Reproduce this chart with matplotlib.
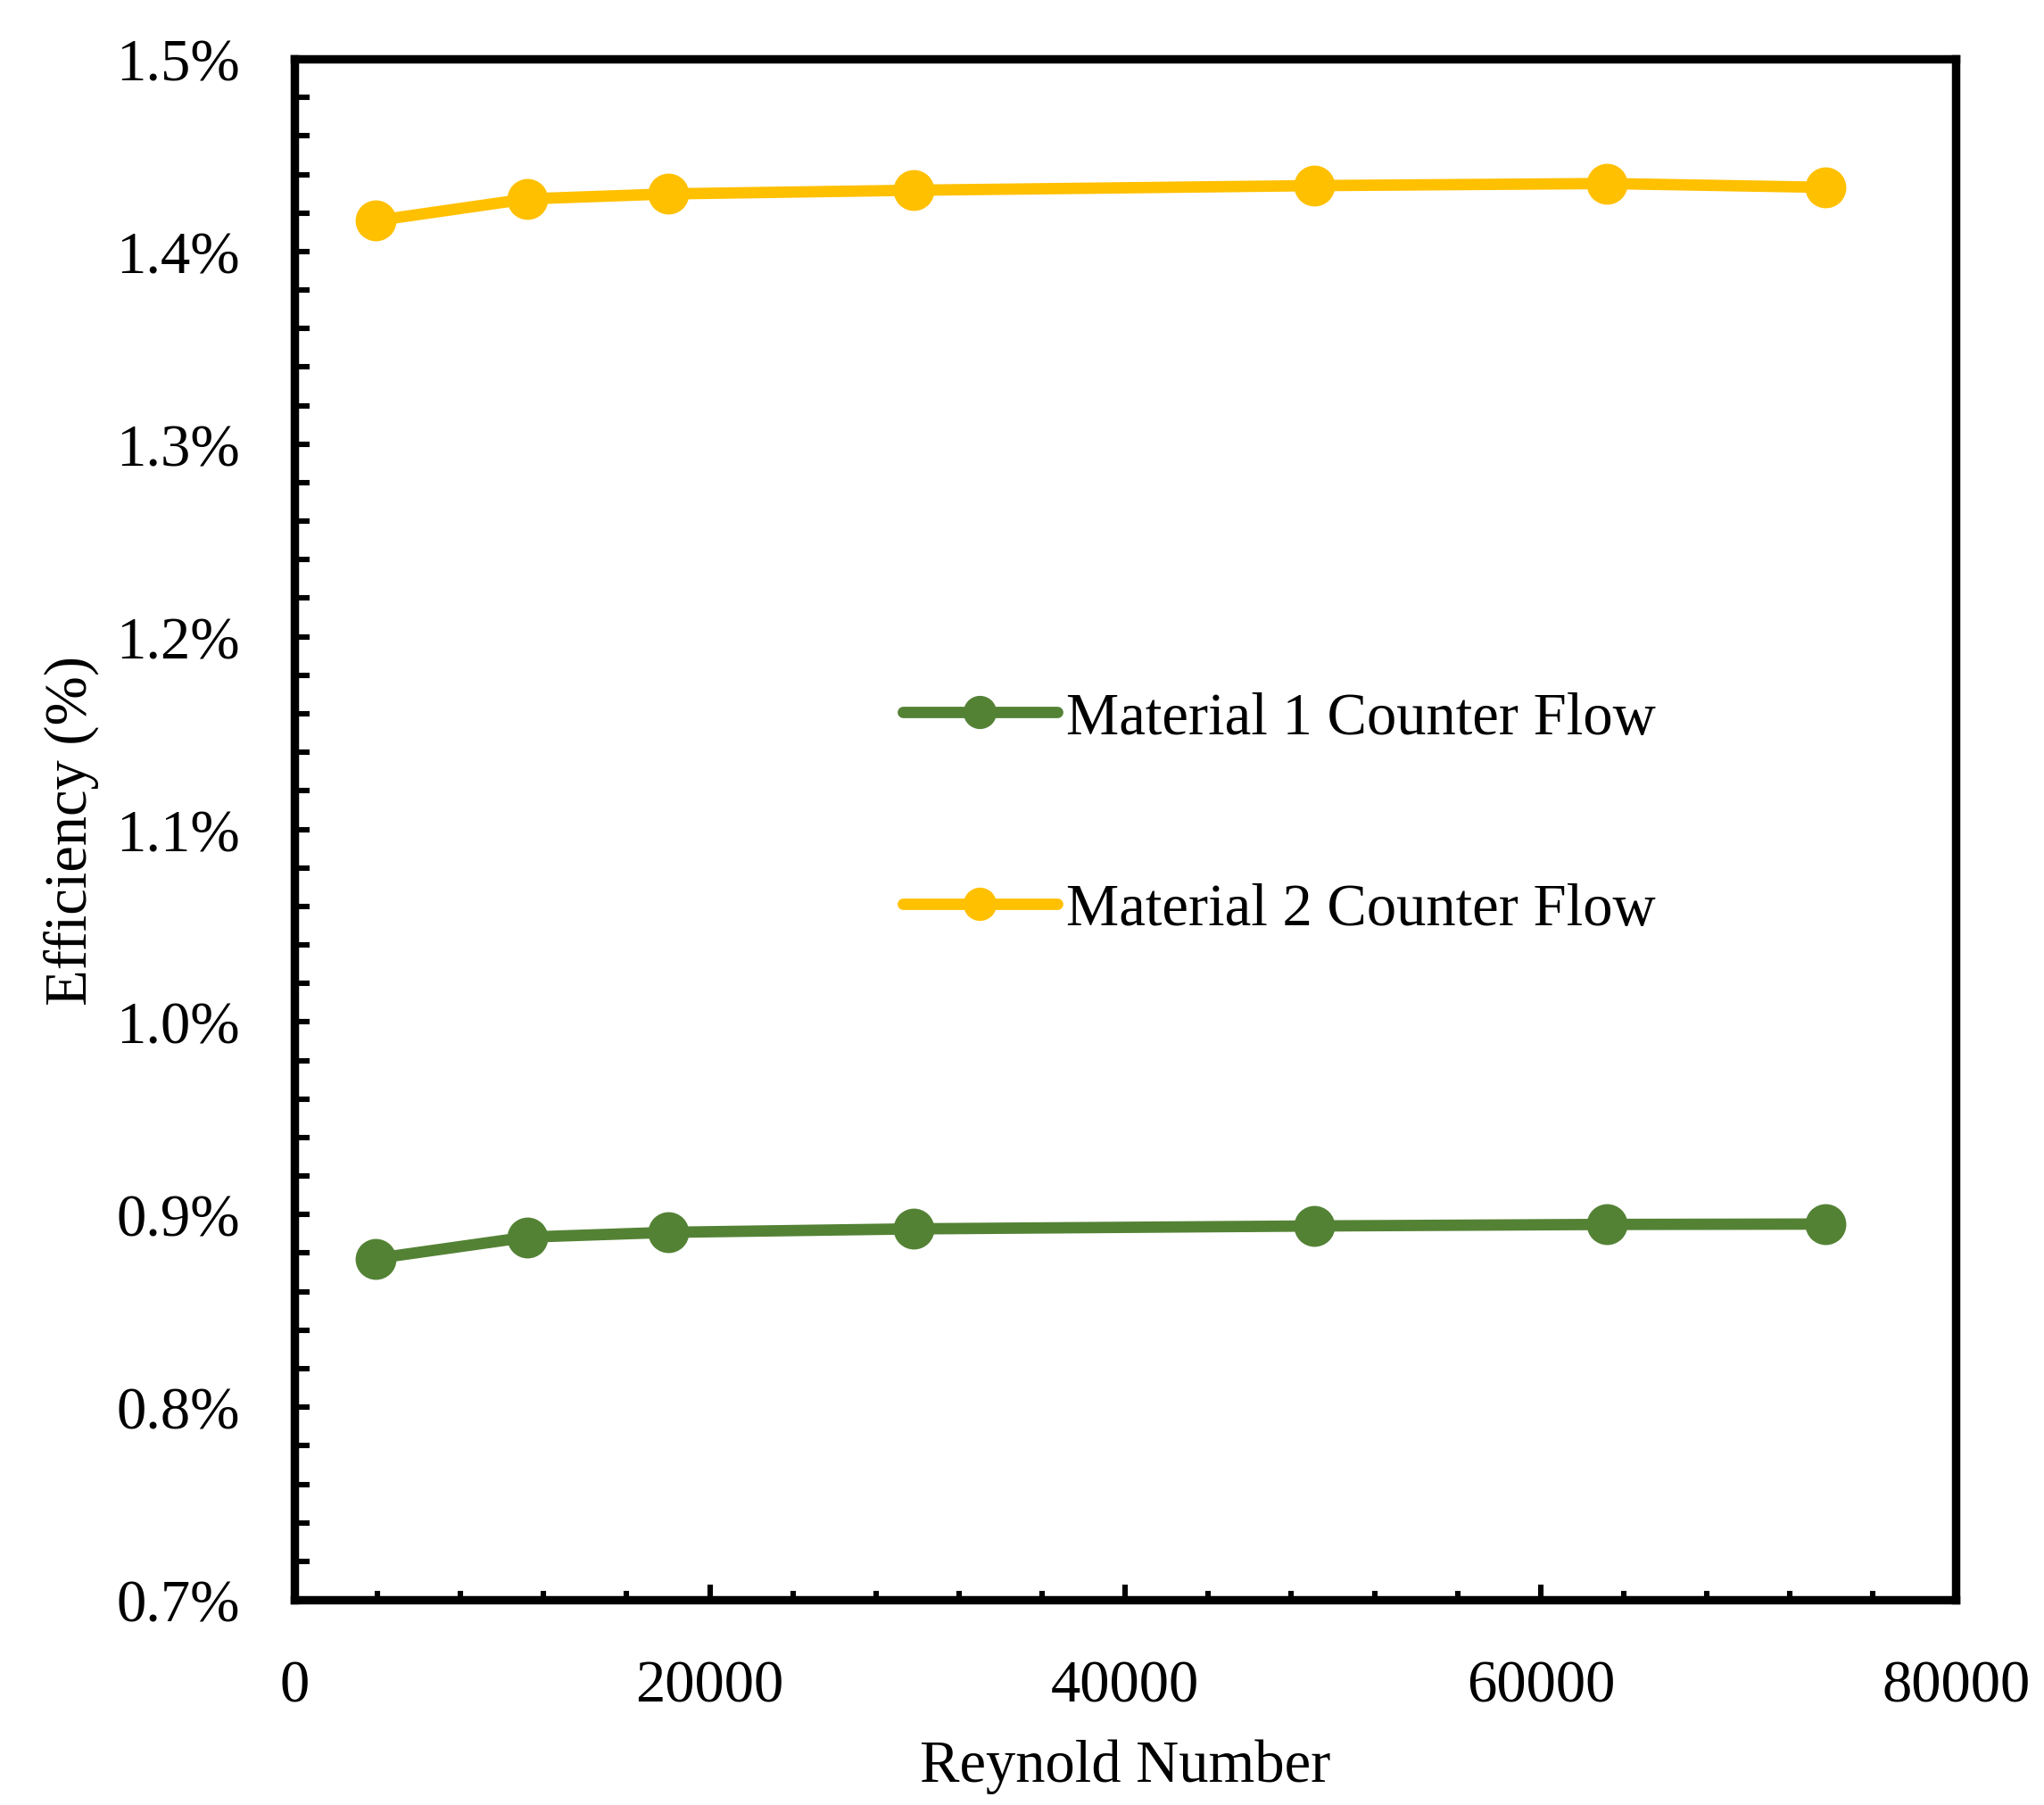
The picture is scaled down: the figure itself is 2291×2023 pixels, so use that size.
import numpy as np
import matplotlib
matplotlib.use('Agg')
import matplotlib.pyplot as plt
from matplotlib.ticker import MultipleLocator, FuncFormatter

plt.rcParams['font.family'] = ['Liberation Serif', 'DejaVu Serif']

# Reynolds numbers
reynolds = [3900, 11200, 18000, 29800, 49100, 63200, 73700]
# efficiency in percent
eff_mat1 = [0.8772, 0.8883, 0.8908, 0.8926, 0.8941, 0.8949, 0.8951]
eff_mat2 = [1.4160, 1.4273, 1.4299, 1.4318, 1.4342, 1.4353, 1.4333]
labels = ['Material 1 Counter Flow', 'Material 2 Counter Flow']

green = '#548235'
yellow = '#FFC000'

fig = plt.figure(figsize=(2291 / 200, 2024 / 200), dpi=200)
ax = fig.add_axes([0.144, 0.1136, 0.813, 0.8533])

ax.plot(reynolds, eff_mat1, color=green, lw=4.6, marker='o', ms=15.5,
        label=labels[0], solid_capstyle='round')
ax.plot(reynolds, eff_mat2, color=yellow, lw=4.6, marker='o', ms=15.5,
        label=labels[1], solid_capstyle='round')

ax.set_xlim(0, 80000)
ax.set_ylim(0.7, 1.5)
ax.xaxis.set_major_locator(MultipleLocator(20000))
ax.xaxis.set_minor_locator(MultipleLocator(4000))
ax.yaxis.set_major_locator(MultipleLocator(0.1))
ax.yaxis.set_minor_locator(MultipleLocator(0.02))
ax.yaxis.set_major_formatter(FuncFormatter(lambda v, p: '{:.1f}%'.format(v)))

for s in ax.spines.values():
    s.set_linewidth(3.4)

ax.tick_params(axis='both', which='both', direction='in', width=2.2,
               labelsize=24, top=False, right=False)
ax.tick_params(axis='x', which='major', length=6, pad=24)
ax.tick_params(axis='x', which='minor', length=3.5)
ax.tick_params(axis='y', which='major', length=6, pad=22)
ax.tick_params(axis='y', which='minor', length=6)

ax.set_xlabel('Reynold Number', fontsize=24, labelpad=10)
ax.set_ylabel('Efficiency (%)', fontsize=24, labelpad=7)

ax.legend(loc='center left', bbox_to_anchor=(0.366, 0.510), frameon=False,
          fontsize=24, handlelength=2.6, handletextpad=0.15, labelspacing=2.3,
          markerscale=0.8, borderpad=0, borderaxespad=0)

fig.savefig('out.png', dpi=200)
